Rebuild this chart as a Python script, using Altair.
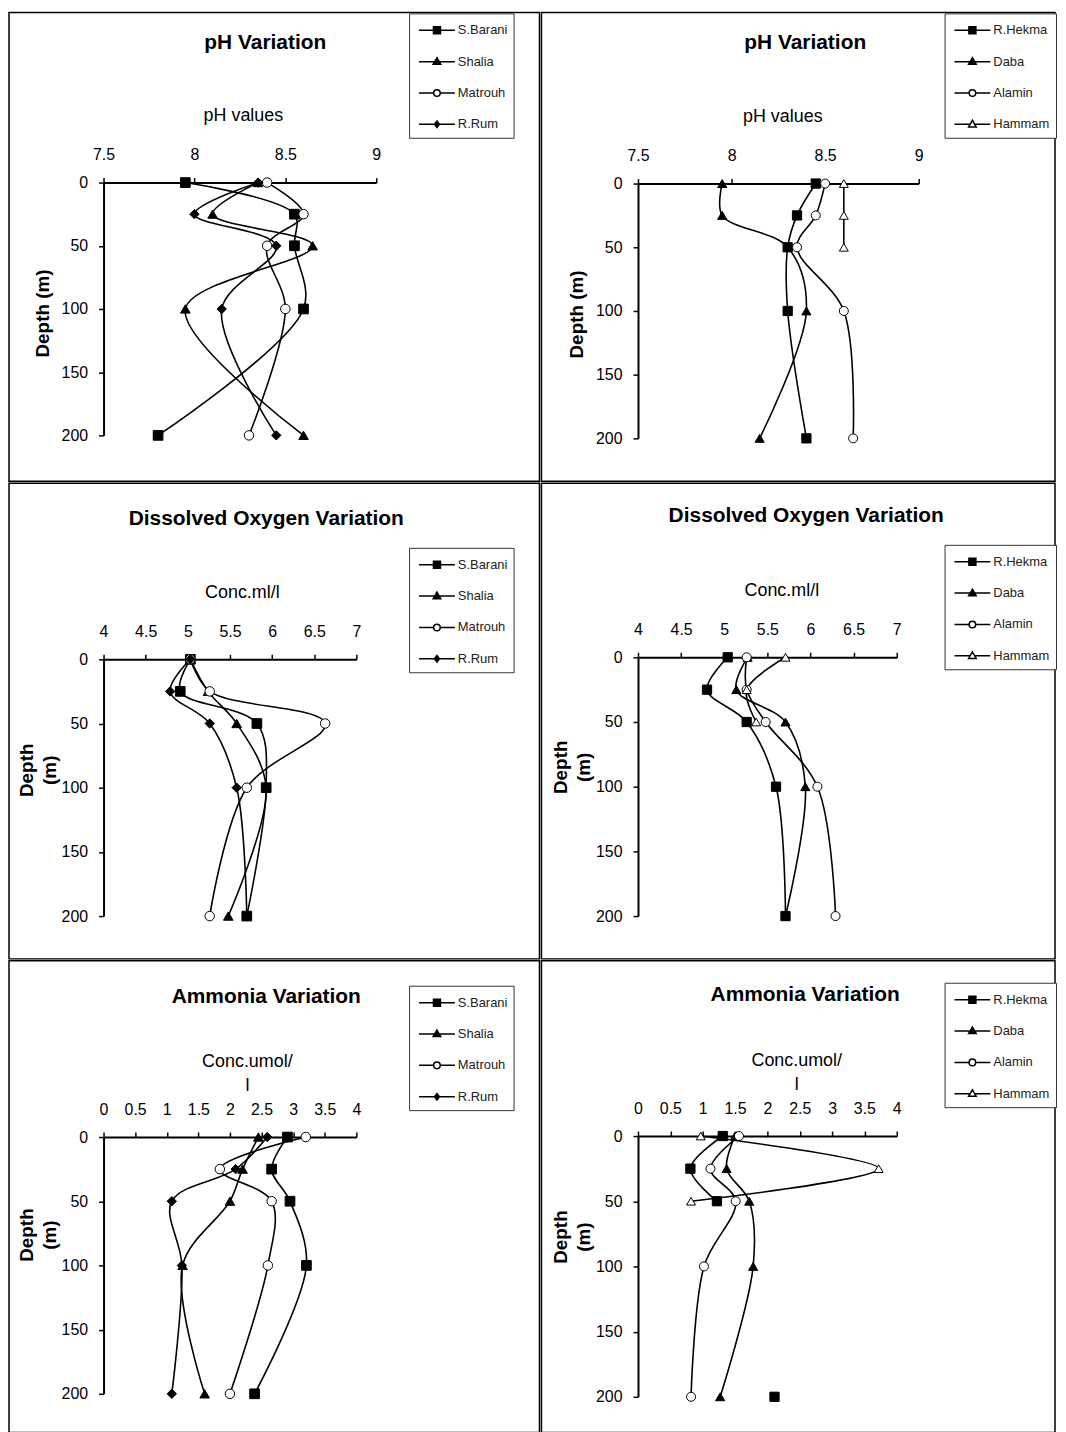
import altair as alt
import pandas as pd

DEPTHS = [0, 25, 50, 100, 200]
WEST = ["S.Barani", "Shalia", "Matrouh", "R.Rum"]
EAST = ["R.Hekma", "Daba", "Alamin", "Hammam"]

# pH values (west stations)
ph_s_barani = [7.95, 8.55, 8.55, 8.60, 7.80]
ph_shalia = [8.35, 8.10, 8.65, 7.95, 8.60]
ph_matrouh = [8.40, 8.60, 8.40, 8.50, 8.30]
ph_r_rum = [8.35, 8.00, 8.45, 8.15, 8.45]
# pH values (east stations)
ph_r_hekma = [8.45, 8.35, 8.30, 8.30, 8.40]
ph_daba = [7.95, 7.95, 8.30, 8.40, 8.15]
ph_alamin = [8.50, 8.45, 8.35, 8.60, 8.65]
ph_hammam = [8.60, 8.60, 8.60, None, None]

# Dissolved oxygen (ml/l)
do_s_barani = [5.03, 4.91, 5.82, 5.93, 5.70]
do_shalia = [5.03, 5.24, 5.58, 5.93, 5.48]
do_matrouh = [5.03, 5.26, 6.63, 5.70, 5.26]
do_r_rum = [5.03, 4.79, 5.26, 5.58, 5.70]
do_r_hekma = [5.04, 4.80, 5.26, 5.60, 5.71]
do_daba = [5.27, 5.14, 5.71, 5.94, 5.71]
do_alamin = [5.26, 5.26, 5.48, 6.08, 6.29]
do_hammam = [5.71, 5.26, 5.37, None, None]

# Ammonia (umol/l)
nh_s_barani = [2.91, 2.66, 2.95, 3.21, 2.39]
nh_shalia = [2.45, 2.20, 2.00, 1.25, 1.60]
nh_matrouh = [3.20, 1.84, 2.66, 2.60, 2.00]
nh_r_rum = [2.59, 2.09, 1.08, 1.24, 1.08]
nh_r_hekma = [1.31, 0.81, 1.22, None, 2.11]
nh_daba = [1.50, 1.37, 1.72, 1.78, 1.27]
nh_alamin = [1.56, 1.12, 1.51, 1.02, 0.82]
nh_hammam = [0.97, 3.72, 0.82, None, None]

PH_TICKS = [7.5, 8, 8.5, 9]
DO_TICKS = [4, 4.5, 5, 5.5, 6, 6.5, 7]
NH_TICKS = [0, 0.5, 1, 1.5, 2, 2.5, 3, 3.5, 4]
DEPTH_TICKS = [0, 50, 100, 150, 200]

FONT = "Liberation Sans"

# marker styles per station kind
PLOT_SHAPE = {"sq": "square", "tri": "triangle-up", "circ": "circle",
              "dia": "diamond", "otri": "triangle-up"}
PLOT_FILL = {"sq": "black", "tri": "black", "circ": "white", "dia": "black", "otri": "white"}
PLOT_SIZE = {"sq": 95, "tri": 80, "circ": 60, "dia": 55, "otri": 75}
# legend glyphs: a line with the marker in its middle (unit = 10 px)
LEG_PATH = {
    "sq": "M-0.7,0H2.9M0.75,-0.35H1.45V0.35H0.75Z",
    "tri": "M-0.7,0H2.9M1.1,-0.4L1.48,0.26L0.72,0.26Z",
    "circ": "M-0.7,0H0.77M1.43,0H2.9M1.43,0A0.33,0.33 0 1,1 0.77,0A0.33,0.33 0 1,1 1.43,0Z",
    "dia": "M-0.7,0H2.9M1.1,-0.33L1.35,0L1.1,0.33L0.85,0Z",
    "otri": "M-0.7,0H0.87M1.33,0H2.9M1.1,-0.4L1.48,0.26L0.72,0.26Z",
}
WEST_KINDS = ["sq", "tri", "circ", "dia"]
EAST_KINDS = ["sq", "tri", "circ", "otri"]


def make_frame(stations, series):
    rows = []
    for name, vals in zip(stations, series):
        seg = 0
        for d, v in zip(DEPTHS, vals):
            if v is None:
                seg += 1
                continue
            rows.append({"station": name, "depth": d, "value": v, "seg": f"{name}-{seg}"})
    return pd.DataFrame(rows)


def panel(title, stations, kinds, series, xdomain, xticks, xtitle, ytitle,
          xrange, yrange, xtitle_x, ytitle_y, xtitle_pad, ytitle_pad,
          legend_xy, width, height, title_dy, title_dx):
    df = make_frame(stations, series)
    xs = alt.Scale(domain=xdomain, range=xrange, nice=False, zero=False)
    ys = alt.Scale(domain=[0, 200], range=yrange, nice=False, zero=False)
    xaxis = alt.Axis(orient="top", offset=-yrange[0], values=xticks, format="~g",
                     title=xtitle, titleX=xtitle_x, titlePadding=xtitle_pad,
                     labelPadding=15, tickSize=5, grid=False, labelFlush=False)
    yaxis = alt.Axis(orient="left", offset=-xrange[0], values=DEPTH_TICKS,
                     title=ytitle, titleY=ytitle_y, titlePadding=ytitle_pad,
                     labelPadding=11, tickSize=5, grid=False, labelFlush=False,
                     titleFontWeight="bold", titleFontSize=19, titleLineHeight=23)
    x = alt.X("value:Q", scale=xs, axis=xaxis)
    y = alt.Y("depth:Q", scale=ys, axis=yaxis)
    base = alt.Chart(df)
    lines = base.mark_line(interpolate="catmull-rom", color="black", strokeWidth=1.6).encode(
        x=x, y=y, detail="seg:N", order=alt.Order("depth:Q"))
    pts = base.mark_point(stroke="black", strokeWidth=1, opacity=1).encode(
        x=x, y=y,
        shape=alt.Shape("station:N", scale=alt.Scale(domain=stations, range=[PLOT_SHAPE[k] for k in kinds]), legend=None),
        fill=alt.Fill("station:N", scale=alt.Scale(domain=stations, range=[PLOT_FILL[k] for k in kinds]), legend=None),
        size=alt.Size("station:N", scale=alt.Scale(domain=stations, range=[PLOT_SIZE[k] for k in kinds]), legend=None),
    )
    leg = alt.Legend(title=None, orient="none", legendX=legend_xy[0], legendY=legend_xy[1],
                     strokeColor="#333", fillColor="white", padding=6, rowPadding=13.5,
                     symbolSize=400, symbolStrokeWidth=1.5, symbolStrokeColor="black",
                     labelFont=FONT, labelFontSize=13, labelColor="#222", labelOffset=21,
                     cornerRadius=0, symbolOpacity=1)
    legend_layer = base.transform_filter("false").mark_point(strokeWidth=1.5, opacity=1).encode(
        x=x, y=y,
        shape=alt.Shape("station:N", scale=alt.Scale(domain=stations, range=[LEG_PATH[k] for k in kinds]), legend=leg),
        fill=alt.Fill("station:N", scale=alt.Scale(domain=stations, range=[PLOT_FILL[k] for k in kinds]), legend=leg),
        stroke=alt.Stroke("station:N", scale=alt.Scale(domain=stations, range=["black"] * len(stations)), legend=leg),
    )
    return alt.layer(lines, pts, legend_layer).resolve_scale(
        shape="independent", fill="independent", stroke="independent").properties(
        width=width, height=height,
        title=alt.TitleParams(title, font=FONT, fontSize=21, fontWeight="bold", color="black",
                              anchor="middle", frame="group", offset=-54,
                              dx=title_dx, dy=title_dy))


LW, RW = 533, 516
H1, H2, H3 = 471, 478, 474

p1 = panel("pH Variation", WEST, WEST_KINDS, [ph_s_barani, ph_shalia, ph_matrouh, ph_r_rum],
           [7.5, 9], PH_TICKS, "pH values", "Depth (m)", [95, 369], [171, 425],
           235, 302, 22, 9, (402, 1), LW, H1, -13, -9)
p2 = panel("pH Variation", EAST, EAST_KINDS, [ph_r_hekma, ph_daba, ph_alamin, ph_hammam],
           [7.5, 9], PH_TICKS, "pH values", "Depth (m)", [97, 379], [172, 428],
           242, 303, 22, 9, (405, 1), RW, H1, -13, 7)
p3 = panel("Dissolved Oxygen  Variation", WEST, WEST_KINDS, [do_s_barani, do_shalia, do_matrouh, do_r_rum],
           [4, 7], DO_TICKS, "Conc.ml/l", ["Depth", "(m)"], [95, 349], [177, 435],
           234, 288, 22, 2, (402, 65), LW, H2, -8, -8)
p4 = panel("Dissolved Oxygen  Variation", EAST, EAST_KINDS, [do_r_hekma, do_daba, do_alamin, do_hammam],
           [4, 7], DO_TICKS, "Conc.ml/l", ["Depth", "(m)"], [97, 357], [175, 435],
           241, 285, 22, 2, (405, 62), RW, H2, -11, 8)
p5 = panel("Ammonia Variation", WEST, WEST_KINDS, [nh_s_barani, nh_shalia, nh_matrouh, nh_r_rum],
           [0, 4], NH_TICKS, ["Conc.umol/", "l"], ["Depth", "(m)"], [95, 349], [177, 435],
           239, 275, 7, 2, (402, 25), LW, H3, -8, -8)
p6 = panel("Ammonia Variation", EAST, EAST_KINDS, [nh_r_hekma, nh_daba, nh_alamin, nh_hammam],
           [0, 4], NH_TICKS, ["Conc.umol/", "l"], ["Depth", "(m)"], [97, 357], [176, 438],
           256, 277, 7, 2, (405, 22), RW, H3, -10, 7)

chart = alt.vconcat(
    alt.hconcat(p1, p2, spacing=0),
    alt.hconcat(p3, p4, spacing=0),
    alt.hconcat(p5, p6, spacing=0),
    spacing=0,
).properties(padding=0).configure_view(
    stroke="black", strokeWidth=1.5
).configure_axis(
    domainColor="black", domainWidth=2, tickColor="black", tickWidth=1.5,
    labelFont=FONT, labelFontSize=16, labelColor="black",
    titleFont=FONT, titleFontSize=18, titleFontWeight="normal", titleColor="black",
    titleLineHeight=24
)

chart.save("out.html", embed_options={"renderer": "svg", "actions": False})
